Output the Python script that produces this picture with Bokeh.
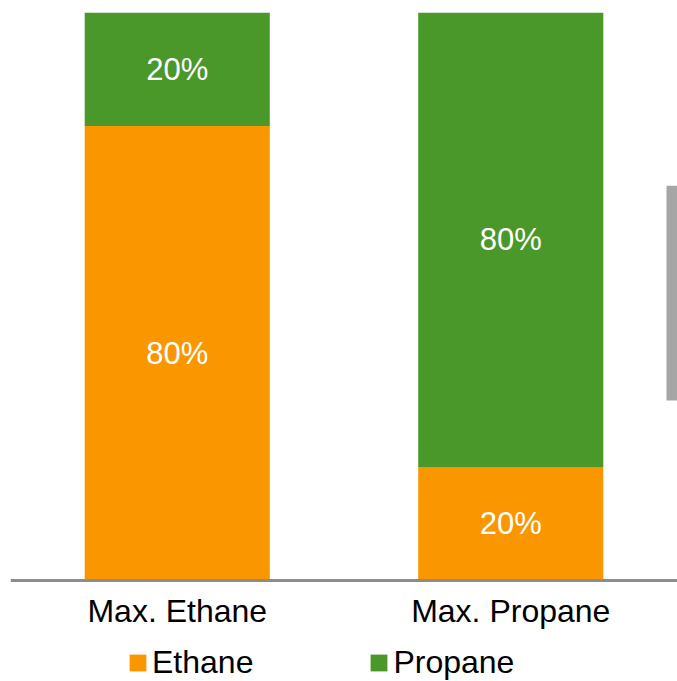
from bokeh.plotting import figure
from bokeh.models import (ColumnDataSource, FactorRange, Range1d, Legend, LegendItem,
                          BoxAnnotation, LabelSet)
from bokeh.core.properties import value
from bokeh.embed import file_html
from bokeh.resources import INLINE

categories = ["Max. Ethane", "Max. Propane"]
series = ["Ethane", "Propane"]
ethane = [80, 20]
propane = [20, 80]
colors = ["#f99600", "#4a972a"]

FONT = "Liberation Sans"

src = ColumnDataSource(dict(cat=categories, Ethane=ethane, Propane=propane))

# frame spans y=12..681; value 0 sits at y=580
p = figure(x_range=FactorRange(*categories), y_range=Range1d(-17.78, 100),
           width=677, height=681, output_backend="svg", toolbar_location=None,
           min_border_left=10, min_border_right=0, min_border_top=12,
           min_border_bottom=0)
p.outline_line_color = None
p.grid.visible = False
p.yaxis.visible = False
p.background_fill_color = "white"
p.border_fill_color = "white"

rs = p.vbar_stack(series, x="cat", width=0.555, color=colors, source=src, line_color=None)

# value labels at segment midpoints
lab_x, lab_y, lab_t = [], [], []
for i, c in enumerate(categories):
    base = 0
    for vals in (ethane, propane):
        v = vals[i]
        lab_x.append(c)
        lab_y.append(base + v / 2)
        lab_t.append(f"{v}%")
        base += v
lsrc = ColumnDataSource(dict(x=lab_x, y=lab_y, t=lab_t))
labels = LabelSet(x="x", y="y", text="t", source=lsrc, text_color="white",
                  text_font=value(FONT), text_font_size="31px", text_align="center",
                  text_baseline="middle")
p.add_layout(labels)

ax = p.xaxis[0]
ax.fixed_location = 0
ax.axis_line_color = "#8c8c8c"
ax.axis_line_width = 3
ax.major_tick_line_color = None
ax.minor_tick_line_color = None
ax.major_tick_in = 0
ax.major_tick_out = 0
ax.major_label_standoff = 12
ax.major_label_text_font = FONT
ax.major_label_text_font_size = "32px"
ax.major_label_text_color = "black"

# gray side marker
p.add_layout(BoxAnnotation(left=1.967, right=2.0, bottom=31.7, top=69.5,
                           fill_color="#a6a6a6", fill_alpha=1.0, line_alpha=0))

legend = Legend(items=[LegendItem(label=s, renderers=[r]) for s, r in zip(series, rs)],
                orientation="horizontal", location=(117, 0),
                glyph_width=21, glyph_height=21, label_standoff=4, spacing=115,
                padding=0, margin=0, border_line_color=None, background_fill_alpha=0,
                label_text_font=FONT, label_text_font_size="32px", label_text_color="black")
p.add_layout(legend, "center")

open("out.html", "w").write(file_html(p, INLINE))
